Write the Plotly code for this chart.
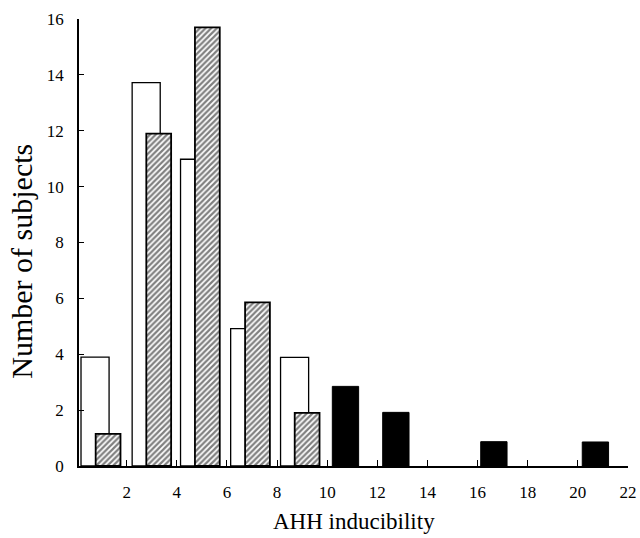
import plotly.graph_objects as go

# Bin centres (AHH inducibility) and counts
white_x = [0.74, 2.78, 4.71, 6.71, 8.70]
white_y = [3.9, 13.72, 10.98, 4.92, 3.89]

hatch_x = [1.26, 3.28, 5.22, 7.22, 9.20]
hatch_y = [1.15, 11.9, 15.7, 5.86, 1.9]

black_x = [10.73, 12.74, 16.65, 20.70]
black_y = [2.85, 1.92, 0.87, 0.86]

x_ticks = [2, 4, 6, 8, 10, 12, 14, 16, 18, 20, 22]
y_ticks = [0, 2, 4, 6, 8, 10, 12, 14, 16]

x_title = "AHH inducibility"
y_title = "Number of subjects"

SERIF = "Liberation Serif, Times New Roman, serif"

fig = go.Figure()
fig.add_trace(go.Bar(
    x=white_x, y=white_y, width=1.12,
    marker=dict(color="white", line=dict(color="black", width=1.3)),
    showlegend=False, hoverinfo="skip",
))
fig.add_trace(go.Bar(
    x=hatch_x, y=hatch_y, width=0.99,
    marker=dict(color="white", line=dict(color="black", width=1.8),
                pattern=dict(shape="/", fgcolor="black", bgcolor="white",
                             size=4, solidity=0.55)),
    showlegend=False, hoverinfo="skip",
))
fig.add_trace(go.Bar(
    x=black_x, y=black_y, width=1.05,
    marker=dict(color="black", line=dict(color="black", width=1)),
    showlegend=False, hoverinfo="skip",
))

fig.update_layout(
    width=640, height=538,
    barmode="overlay",
    plot_bgcolor="white", paper_bgcolor="white",
    margin=dict(l=79, r=12, t=19, b=72, autoexpand=False),
    font=dict(family=SERIF, color="black", size=17),
    xaxis=dict(
        range=[0.1, 22], tickvals=x_ticks, ticktext=[str(v) for v in x_ticks],
        showline=True, linecolor="black", linewidth=1.5,
        ticks="inside", ticklen=6, tickcolor="black", tickwidth=1,
        showgrid=False, zeroline=False,
        tickfont=dict(family=SERIF, size=17),
        ticklabelstandoff=10,
    ),
    yaxis=dict(
        range=[0, 16], tickvals=y_ticks,
        showline=True, linecolor="black", linewidth=1.5,
        ticks="inside", ticklen=5, tickcolor="black", tickwidth=1,
        showgrid=False, zeroline=False,
        tickfont=dict(family=SERIF, size=17),
        ticklabelstandoff=10,
    ),
    annotations=[
        dict(text=x_title, xref="paper", yref="paper", x=0.5, y=0,
             xanchor="center", yanchor="middle", yshift=-55,
             showarrow=False, font=dict(family=SERIF, size=23)),
        dict(text=y_title, xref="paper", yref="paper", x=0, y=0.457,
             xanchor="center", yanchor="middle", xshift=-57, textangle=-90,
             showarrow=False, font=dict(family=SERIF, size=30)),
    ],
)

fig.write_html(
    "out.html",
    config={"displayModeBar": False},
    post_script="document.body.style.margin='0';document.body.style.overflow='hidden';",
)
